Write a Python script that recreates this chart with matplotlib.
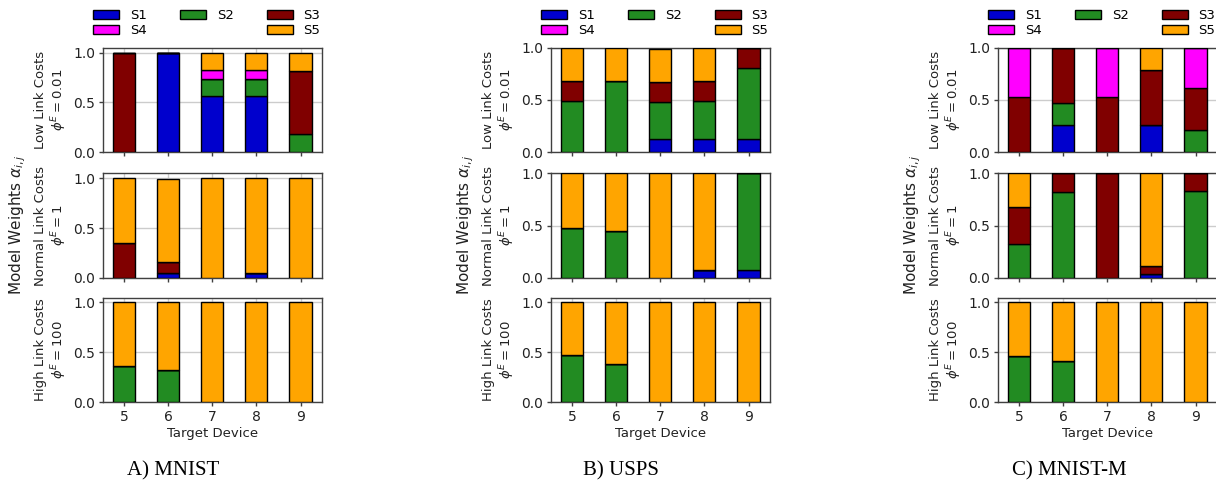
import matplotlib
matplotlib.use('Agg')
import matplotlib.pyplot as plt
from matplotlib.patches import Rectangle

# ---------------- data ----------------
devices = [5, 6, 7, 8, 9]
sources = ['S1', 'S2', 'S3', 'S4', 'S5']
datasets = ['A) MNIST', 'B) USPS', 'C) MNIST-M']
row_labels = ['Low Link Costs\n$\\phi^E = 0.01$',
              'Normal Link Costs\n$\\phi^E = 1$',
              'High Link Costs\n$\\phi^E = 100$']

# rows: S1..S5, columns: target devices 5..9
mnist_low = [
    [0.00, 1.00, 0.56, 0.56, 0.00],
    [0.00, 0.00, 0.18, 0.18, 0.18],
    [1.00, 0.00, 0.00, 0.00, 0.64],
    [0.00, 0.00, 0.09, 0.09, 0.00],
    [0.00, 0.00, 0.17, 0.17, 0.18],
]
mnist_normal = [
    [0.00, 0.05, 0.00, 0.05, 0.00],
    [0.00, 0.00, 0.00, 0.00, 0.00],
    [0.35, 0.11, 0.00, 0.00, 0.00],
    [0.00, 0.00, 0.00, 0.00, 0.00],
    [0.65, 0.83, 1.00, 0.95, 1.00],
]
mnist_high = [
    [0.00, 0.00, 0.00, 0.00, 0.00],
    [0.36, 0.32, 0.00, 0.00, 0.00],
    [0.00, 0.00, 0.00, 0.00, 0.00],
    [0.00, 0.00, 0.00, 0.00, 0.00],
    [0.64, 0.68, 1.00, 1.00, 1.00],
]
usps_low = [
    [0.00, 0.00, 0.13, 0.13, 0.13],
    [0.49, 0.68, 0.35, 0.36, 0.68],
    [0.19, 0.00, 0.19, 0.19, 0.19],
    [0.00, 0.00, 0.00, 0.00, 0.00],
    [0.32, 0.32, 0.32, 0.32, 0.00],
]
usps_normal = [
    [0.00, 0.00, 0.00, 0.07, 0.07],
    [0.48, 0.45, 0.00, 0.00, 0.93],
    [0.00, 0.00, 0.00, 0.00, 0.00],
    [0.00, 0.00, 0.00, 0.00, 0.00],
    [0.52, 0.55, 1.00, 0.93, 0.00],
]
usps_high = [
    [0.00, 0.00, 0.00, 0.00, 0.00],
    [0.47, 0.38, 0.00, 0.00, 0.00],
    [0.00, 0.00, 0.00, 0.00, 0.00],
    [0.00, 0.00, 0.00, 0.00, 0.00],
    [0.53, 0.62, 1.00, 1.00, 1.00],
]
mnistm_low = [
    [0.00, 0.26, 0.00, 0.26, 0.00],
    [0.00, 0.21, 0.00, 0.00, 0.21],
    [0.53, 0.53, 0.53, 0.53, 0.40],
    [0.47, 0.00, 0.47, 0.00, 0.39],
    [0.00, 0.00, 0.00, 0.21, 0.00],
]
mnistm_normal = [
    [0.00, 0.00, 0.00, 0.04, 0.00],
    [0.32, 0.82, 0.00, 0.00, 0.83],
    [0.36, 0.18, 1.00, 0.07, 0.17],
    [0.00, 0.00, 0.00, 0.00, 0.00],
    [0.32, 0.00, 0.00, 0.89, 0.00],
]
mnistm_high = [
    [0.00, 0.00, 0.00, 0.00, 0.00],
    [0.46, 0.41, 0.00, 0.00, 0.00],
    [0.00, 0.00, 0.00, 0.00, 0.00],
    [0.00, 0.00, 0.00, 0.00, 0.00],
    [0.54, 0.59, 1.00, 1.00, 1.00],
]

panels = [[mnist_low, mnist_normal, mnist_high],
          [usps_low, usps_normal, usps_high],
          [mnistm_low, mnistm_normal, mnistm_high]]

# ---------------- style / layout ----------------
colors = ['#0000CD', '#228B22', '#800000', '#FF00FF', '#FFA500']
ytops = [[1.05, 1.05, 1.05], [1.0, 1.0, 1.05], [1.0, 1.0, 1.05]]

W, H = 1216, 480
fig = plt.figure(figsize=(W / 100, H / 100), dpi=100)

col_left = [103, 551, 998]
col_width = 218.5
row_top = [47.7, 173.3, 297.5]
row_h = 104.5
caption_x = [173, 621, 1069]

spine_c = '0.25'
grid_c = '#cccccc'


def fx(px):
    return px / W


def fy(py):
    return 1 - py / H


for g in range(3):
    left = col_left[g]
    for r in range(3):
        top = row_top[r]
        ax = fig.add_axes([fx(left), fy(top + row_h), col_width / W, row_h / H])
        data = panels[g][r]
        bottom = [0.0] * len(devices)
        handles = []
        for s in range(len(sources)):
            bars = ax.bar(devices, data[s], width=0.5, bottom=bottom,
                          color=colors[s], edgecolor='black', linewidth=1.0,
                          label=sources[s], zorder=3)
            handles.append(bars)
            bottom = [b + v for b, v in zip(bottom, data[s])]
        ax.set_ylim(0, ytops[g][r])
        ax.set_xlim(4.525, 9.475)
        ax.set_yticks([0.0, 0.5, 1.0])
        ax.set_xticks(devices)
        ax.grid(True, color=grid_c, linewidth=1.0, zorder=0)
        ax.set_axisbelow(True)
        for sp in ax.spines.values():
            sp.set_color(spine_c)
            sp.set_linewidth(1.0)
        ax.tick_params(axis='both', length=3, width=1, pad=2.5,
                       colors=spine_c, labelcolor='#222222', labelsize=10)
        if r < 2:
            ax.set_xticklabels([])
        else:
            ax.set_xlabel('Target Device', fontsize=9.5, color='#222222',
                          labelpad=2.5)
        # row label
        fig.text(fx(left - 51.5), fy(top + row_h / 2), row_labels[r],
                 rotation=90, ha='center', va='center', fontsize=9.5,
                 color='#222222', linespacing=1.15)
        if r == 0:
            blank = Rectangle((0, 0), 1, 1, fill=False, edgecolor='none',
                              visible=False)
            order = [handles[0], handles[3], handles[1], blank,
                     handles[2], handles[4]]
            labels = ['S1', 'S4', 'S2', '', 'S3', 'S5']
            fig.legend(order, labels, ncol=3, frameon=False, fontsize=9.5,
                       loc='upper left',
                       bbox_to_anchor=(fx(left - 10), fy(9)),
                       borderaxespad=0, borderpad=0, columnspacing=2.5,
                       handlelength=2.0, handletextpad=0.8,
                       labelspacing=0.15)
    # big y label
    fig.text(fx(left - 85), fy((row_top[0] + row_top[2] + row_h) / 2),
             'Model Weights $\\alpha_{i,j}$', rotation=90, ha='center',
             va='center', fontsize=11, color='#222222')
    # caption
    fig.text(fx(caption_x[g]), fy(470.5), datasets[g], ha='center',
             va='center', fontsize=15, family='Liberation Serif')

fig.savefig('out.png', dpi=100)
